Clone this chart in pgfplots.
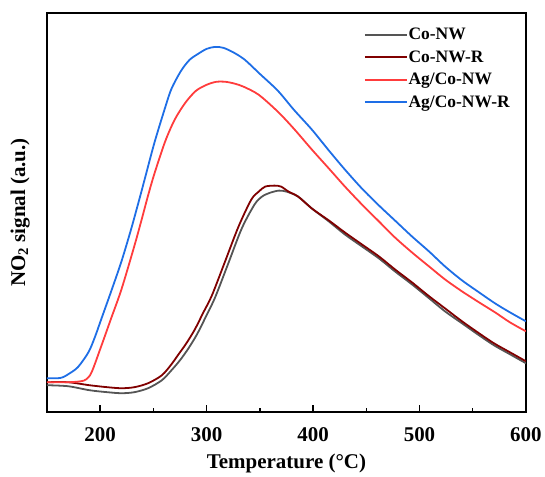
\documentclass[border=0pt]{standalone}
\usepackage{pgfplots}
\pgfplotsset{compat=1.18}
\usepackage{fontspec}
\setmainfont{Liberation Serif}
\definecolor{cgray}{RGB}{85,85,85}
\definecolor{cdred}{RGB}{128,0,0}
\definecolor{cred}{RGB}{255,60,60}
\definecolor{cblue}{RGB}{30,110,230}
\begin{document}
\begin{tikzpicture}
\begin{axis}[
  scale only axis, width=480pt, height=400pt,
  xmin=150, xmax=600, ymin=0, ymax=400,
  axis line style={line width=1.6pt},
  xtick={200,300,400,500,600},
  minor xtick={250,350,450,550},
  ytick=\empty,
  xtick pos=bottom, tick align=inside,
  major tick length=7pt, minor tick length=4pt,
  every tick/.style={line width=1.4pt, black},
  /pgf/number format/assume math mode=true,
  /pgf/number format/1000 sep={},
  ticklabel style={font=\fontsize{21}{24}\selectfont\bfseries},
  xticklabel style={yshift=-12pt},
  xlabel={Temperature (°C)},
  ylabel={NO\textsubscript{2} signal (a.u.)},
  label style={font=\fontsize{21}{24}\selectfont\bfseries},
  xlabel style={at={(axis description cs:0.5,-0.128)}, anchor=center},
  ylabel style={at={(axis description cs:-0.056,0.5)}, anchor=center},
  legend style={at={(axis description cs:1,1)}, anchor=north east, xshift=-12pt, yshift=-12pt,
    draw=none, fill=none, font=\fontsize{17.5}{19}\selectfont\bfseries, row sep=7.5pt,
    nodes={inner sep=1pt}},
  legend cell align=left,
  legend image code/.code={\draw[#1] (0pt,0pt) -- (42pt,0pt);},
  every axis plot/.append style={line width=1.8pt, smooth},
]
\addplot[cgray] coordinates {
(150,27) (170,26) (190,22) (207,20) (220,19) (232,20) (245,24) (258,32) (267,42) (275,52) (283,64) (291,78) (299,95) (308,115) (320,148) (333,184) (345,208) (352,216) (360,220) (368,222) (375,221) (386,216) (399,204) (415,191) (430,178) (446,166) (462,154) (477,141) (493,128) (508,115) (524,101) (540,89) (556,77) (570,67) (585,58) (600,49)};
\addlegendentry{Co-NW}
\addplot[cdred] coordinates {
(150,30) (170,30) (190,27) (207,25) (220,24) (232,25) (245,29) (258,37) (267,48) (273,57) (281,69) (289,83) (297,100) (305,117) (317,150) (330,186) (342,213) (349,221) (355,226) (364,227) (370,226) (377,221) (386,216) (399,204) (415,192) (430,180) (446,168) (462,156) (477,143) (493,130) (508,117) (524,104) (540,91) (556,79) (570,69) (585,60) (600,51)};
\addlegendentry{Co-NW-R}
\addplot[cred] coordinates {
(150,30) (170,30) (182,31) (187,33) (192,40) (201,66) (210,93) (220,123) (232,166) (239,193) (245,217) (251,239) (261,271) (270,293) (280,310) (290,322) (300,328) (309,331) (318,331) (327,329) (335,326) (349,318) (367,301) (382,284) (399,263) (415,244) (430,226) (446,208) (462,191) (477,175) (493,160) (509,146) (524,133) (540,121) (556,110) (571,100) (585,90) (600,81)};
\addlegendentry{Ag/Co-NW}
\addplot[cblue] coordinates {
(150,34) (160,34) (165,35) (170,38) (179,45) (189,60) (195,75) (201,93) (210,120) (220,151) (229,183) (237,214) (242,234) (251,270) (261,305) (267,324) (276,342) (284,353) (292,359) (300,364) (308,366) (316,365) (326,360) (336,353) (350,339) (367,322) (382,303) (399,283) (415,262) (430,243) (446,224) (462,207) (477,192) (493,176) (509,161) (524,146) (540,132) (556,120) (571,109) (585,100) (600,91)};
\addlegendentry{Ag/Co-NW-R}
\coordinate (sw) at (rel axis cs:0,0);
\coordinate (ne) at (rel axis cs:1,1);
\end{axis}
\useasboundingbox ([shift={(-47pt,-63pt)}]sw) rectangle ([shift={(18pt,13pt)}]ne);
\end{tikzpicture}
\end{document}
